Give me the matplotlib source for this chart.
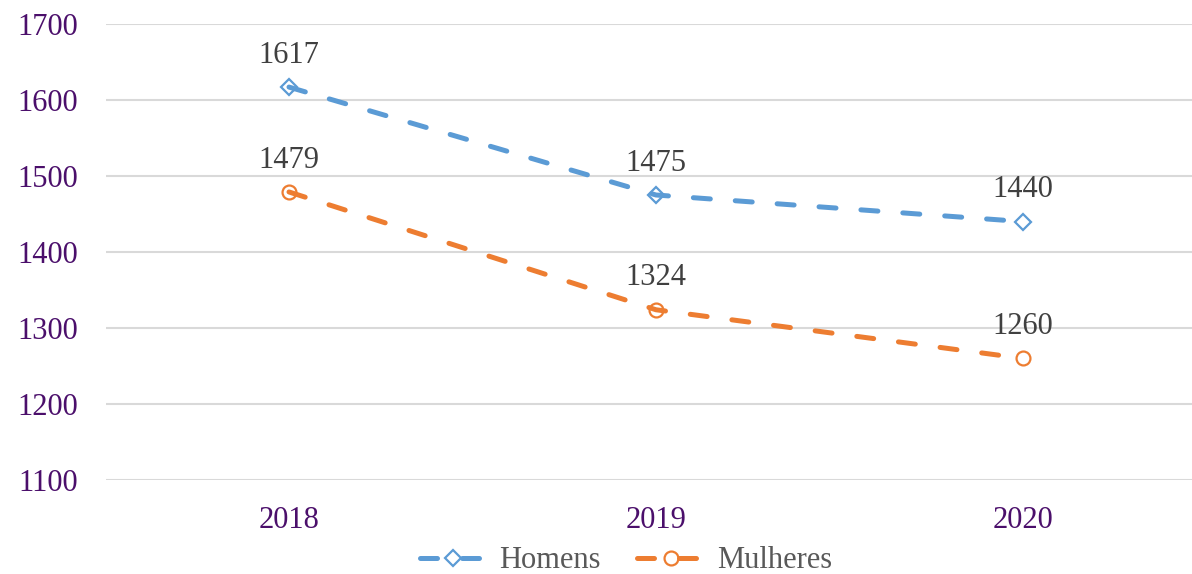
import matplotlib
matplotlib.use("Agg")
from matplotlib import pyplot as plt

years = ["2018", "2019", "2020"]
homens = [1617, 1475, 1440]
mulheres = [1479, 1324, 1260]

plt.rcParams["font.family"] = ["Liberation Serif", "DejaVu Serif"]

fig = plt.figure(figsize=(11.92, 5.74), dpi=100)
ax = fig.add_axes([105.5 / 1192, 1 - 480 / 574, 1101 / 1192, 456 / 574])

x = list(range(len(years)))
series = [
    ("Homens", homens, "#5B9BD5", "D", 8),
    ("Mulheres", mulheres, "#ED7D31", "o", 10),
]
for name, vals, col, mk, ms in series:
    ax.plot(x, vals, color=col, lw=3.6, ls=(0, (3.4, 5.0)), dash_capstyle="round",
            marker=mk, ms=ms, mfc="none", mec=col, mew=1.6, label=name)
    for xi, v in zip(x, vals):
        ax.annotate(str(v), (xi, v), xytext=(0, 23), textcoords="offset points",
                    ha="center", va="center", fontsize=22, color="#404040")

ax.set_xlim(-0.5, 2.5)
ax.set_ylim(1100, 1700)
ax.set_yticks(range(1100, 1701, 100))
ax.set_xticks(x)
ax.set_xticklabels(years)
ax.tick_params(axis="both", length=0, labelsize=22, labelcolor="#4B0F6B")
ax.tick_params(axis="x", pad=19)
ax.tick_params(axis="y", pad=20)
ax.grid(axis="y", color="#D9D9D9", lw=1.5)
ax.set_axisbelow(True)
for s in ax.spines.values():
    s.set_visible(False)

fig.legend(loc="center", bbox_to_anchor=(0.525, 1 - 561 / 574), ncol=2, frameon=False,
           fontsize=22, labelcolor="#595959", handlelength=2.2, columnspacing=1.2,
           handletextpad=0.4)

fig.savefig("out.png", dpi=100)
